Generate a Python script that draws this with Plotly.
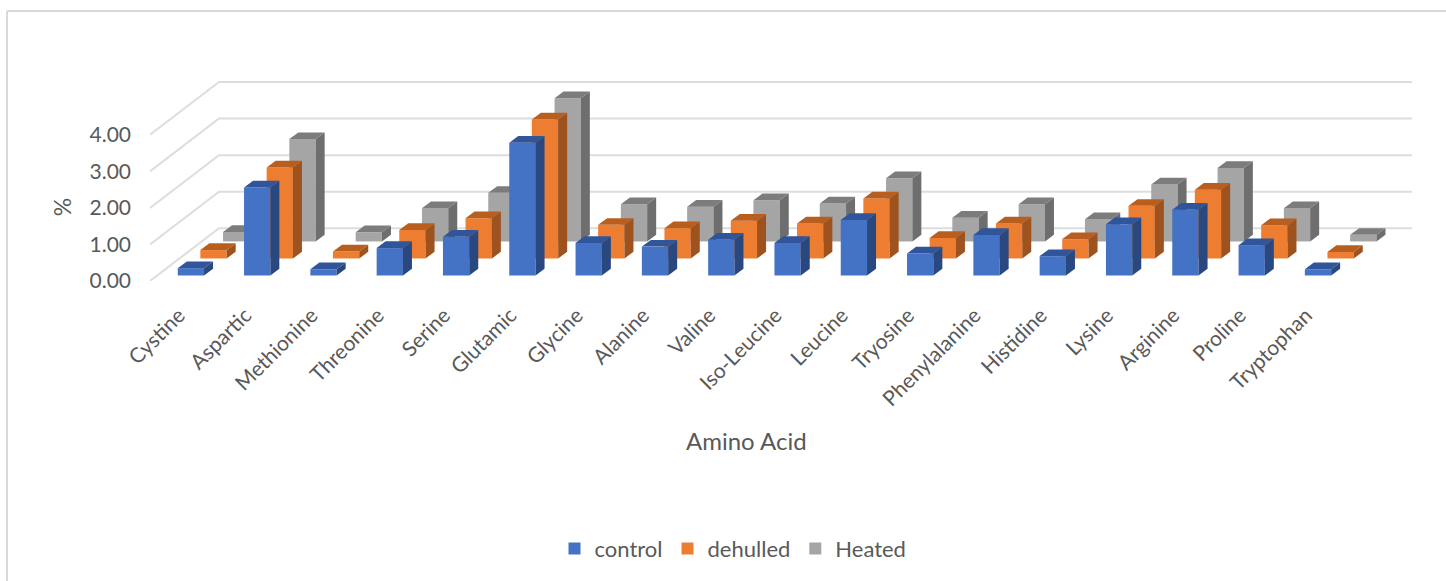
import plotly.graph_objects as go

categories = ["Cystine", "Aspartic", "Methionine", "Threonine", "Serine", "Glutamic", "Glycine",
              "Alanine", "Valine", "Iso-Leucine", "Leucine", "Tryosine", "Phenylalanine", "Histidine",
              "Lysine", "Arginine", "Proline", "Tryptophan"]
control = [0.20, 2.41, 0.17, 0.75, 1.06, 3.63, 0.89, 0.79, 0.98, 0.89, 1.52, 0.60, 1.11, 0.53, 1.40, 1.80, 0.83, 0.17]
dehulled = [0.23, 2.49, 0.19, 0.78, 1.10, 3.80, 0.92, 0.83, 1.03, 0.96, 1.64, 0.56, 0.96, 0.53, 1.44, 1.88, 0.91, 0.18]
heated = [0.26, 2.80, 0.25, 0.91, 1.33, 3.92, 1.02, 0.95, 1.13, 1.04, 1.73, 0.65, 1.02, 0.61, 1.56, 2.01, 0.91, 0.18]
y_ticks = [0, 1, 2, 3, 4]

W, H = 1446, 581
L, R, T, B = 150, 1412, 60, 280.7   # plot rectangle
PX_CAT, PX_UNIT = 66.3, 36.5
BAR_W = 26.3 / PX_CAT
DEPTH_X, DEPTH_Y = 9 / PX_CAT, 6.7 / PX_UNIT
WALL_X, WALL_Y = 69 / PX_CAT, 52.7 / PX_UNIT
GREY = "#595959"
FONT = "Lato"
TICK_CENTER = 179

# name, values, front colour, top colour, side colour, axis no., first-bar centre px, floor px
series = [
    ("control", control, "#4472C4", "#30559A", "#294880", 4, 190.9, 275.2),
    ("dehulled", dehulled, "#ED7D31", "#B85F20", "#9E521D", 3, 213.5, 258.2),
    ("Heated", heated, "#A5A5A5", "#7C7C7C", "#6E6E6E", 2, 236.2, 241.2),
]

fig = go.Figure()
positions = list(range(len(categories)))

# back wall and side wall gridlines, on the primary axes
x_lo = (L - TICK_CENTER) / PX_CAT
x_hi = (R - TICK_CENTER) / PX_CAT
gx, gy = [], []
for t in y_ticks:
    gx += [x_lo, x_lo + WALL_X, x_hi, None]
    gy += [t, t + WALL_Y, t + WALL_Y, None]
fig.add_trace(go.Scatter(x=gx, y=gy, mode="lines", line=dict(color="#DDDDDD", width=2),
                         hoverinfo="skip", showlegend=False))


def faces(values, kind):
    xs, ys = [], []
    for p, v in zip(positions, values):
        if kind == "top":
            px = [p - BAR_W / 2, p + BAR_W / 2, p + BAR_W / 2 + DEPTH_X, p - BAR_W / 2 + DEPTH_X, p - BAR_W / 2]
            py = [v, v, v + DEPTH_Y, v + DEPTH_Y, v]
        else:
            r = p + BAR_W / 2
            px = [r, r + DEPTH_X, r + DEPTH_X, r, r]
            py = [0, DEPTH_Y, v + DEPTH_Y, v, 0]
        xs += px + [None]
        ys += py + [None]
    return xs, ys


for name, values, front, top, side, ax, center, floor in series:
    xa, ya = f"x{ax}", f"y{ax}"
    fig.add_trace(go.Bar(x=positions, y=values, width=BAR_W, name=name, marker=dict(color=front, line_width=0),
                         xaxis=xa, yaxis=ya))
    for kind, colour in (("side", side), ("top", top)):
        fx, fy = faces(values, kind)
        fig.add_trace(go.Scatter(x=fx, y=fy, mode="lines", fill="toself", fillcolor=colour,
                                 line=dict(width=0, color=colour), hoverinfo="skip", showlegend=False,
                                 xaxis=xa, yaxis=ya))
    fig.update_layout(**{
        f"xaxis{ax}": dict(overlaying="x", range=[(L - center) / PX_CAT, (R - center) / PX_CAT], visible=False),
        f"yaxis{ax}": dict(overlaying="y", range=[(floor - B) / PX_UNIT, (floor - T) / PX_UNIT], visible=False),
    })

paper_x = lambda px: (px - L) / (R - L)
paper_y = lambda px: (B - px) / (B - T)

fig.update_layout(
    width=W, height=H, margin=dict(l=L, r=W - R, t=T, b=H - B),
    paper_bgcolor="white", plot_bgcolor="white", barmode="overlay",
    font=dict(family=FONT, size=20, color=GREY),
    xaxis=dict(range=[x_lo, x_hi], tickmode="array", tickvals=positions, ticktext=categories,
               tickangle=-45, showgrid=False, zeroline=False, showline=False, ticks="",
               ticklabelstandoff=17, tickfont=dict(size=21, color=GREY)),
    yaxis=dict(range=[0, (B - T) / PX_UNIT], tickmode="array", tickvals=y_ticks, tickformat=".2f",
               showgrid=False, zeroline=False, showline=False, ticks="", ticklabelstandoff=18,
               tickfont=dict(size=21, color=GREY)),
    legend=dict(orientation="h", x=paper_x(733), xanchor="center", y=paper_y(548), yanchor="middle",
                font=dict(size=22, color=GREY), itemwidth=30, bgcolor="rgba(0,0,0,0)"),
    annotations=[
        dict(text="Amino Acid", x=paper_x(746), y=paper_y(440), xref="paper", yref="paper", yanchor="middle",
             showarrow=False, font=dict(size=24, color=GREY)),
        dict(text="%", x=paper_x(62), y=paper_y(207), xref="paper", yref="paper", textangle=-90,
             xanchor="center", yanchor="middle", showarrow=False, font=dict(size=23, color=GREY)),
    ],
    shapes=[
        dict(type="line", xref="paper", yref="paper", x0=paper_x(7), x1=paper_x(W), y0=paper_y(11), y1=paper_y(11),
             line=dict(color="#D9D9D9", width=2)),
        dict(type="line", xref="paper", yref="paper", x0=paper_x(7), x1=paper_x(7), y0=paper_y(11), y1=paper_y(H),
             line=dict(color="#D9D9D9", width=2)),
    ],
)

fig.write_html("out.html", config={"displayModeBar": False},
               post_script="document.body.style.margin='0';document.body.style.overflow='hidden';")
